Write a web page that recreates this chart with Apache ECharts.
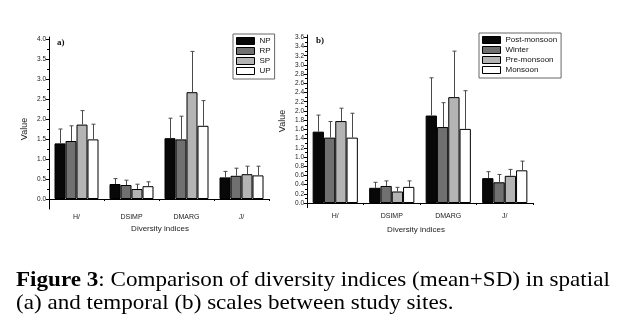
<!DOCTYPE html>
<html>
<head>
<meta charset="utf-8">
<script src="https://cdn.jsdelivr.net/npm/echarts@6/dist/echarts.min.js"></script>
<style>
  html, body { margin: 0; padding: 0; background: #fff; }
  #chart { width: 629px; height: 332px; }
</style>
</head>
<body>
<div id="chart"></div>
<script>
// Diversity indices compared across sites (a) and seasons (b)
const categories = ['H/', 'DSIMP', 'DMARG', 'J/'];

// (a) spatial: sites
const sites = ['NP', 'RP', 'SP', 'UP'];
const npMean = [1.39, 0.375, 1.52, 0.54];
const npSD   = [0.36, 0.135, 0.50, 0.15];
const rpMean = [1.45, 0.35, 1.49, 0.58];
const rpSD   = [0.38, 0.12, 0.58, 0.19];
const spMean = [1.86, 0.25, 2.67, 0.62];
const spSD   = [0.35, 0.12, 1.02, 0.20];
const upMean = [1.49, 0.32, 1.83, 0.59];
const upSD   = [0.38, 0.11, 0.63, 0.23];

// (b) temporal: seasons
const seasons = ['Post-monsoon', 'Winter', 'Pre-monsoon', 'Monsoon'];
const postMean    = [1.55, 0.33, 1.90, 0.54];
const postSD      = [0.36, 0.12, 0.82, 0.14];
const winterMean  = [1.42, 0.37, 1.65, 0.45];
const winterSD    = [0.35, 0.11, 0.53, 0.17];
const preMean     = [1.78, 0.25, 2.30, 0.59];
const preSD       = [0.28, 0.09, 1.00, 0.14];
const monsoonMean = [1.42, 0.35, 1.61, 0.71];
const monsoonSD   = [0.53, 0.13, 0.83, 0.20];

// tick labels
const ticksA = ['0.0', '0.5', '1.0', '1.5', '2.0', '2.5', '3.0', '3.5', '4.0'];
const ticksB = ['0.0', '0.2', '0.4', '0.6', '0.8', '1.0', '1.2', '1.4', '1.6', '1.8',
                '2.0', '2.2', '2.4', '2.6', '2.8', '3.0', '3.2', '3.4', '3.6'];

const fills = ['#080808', '#707070', '#b4b4b4', '#ffffff'];
const GROUP_FRAC = 0.8; // matches barCategoryGap 20%

const majorA = ticksA.map(Number);
const minorA = majorA.slice(0, -1).map(v => +(v + 0.25).toFixed(2));
const majorB = ticksB.map(Number);
const minorB = majorB.slice(0, -1).map(v => +(v + 0.1).toFixed(2));

const sans = 'Liberation Sans, Arial, sans-serif';
const serif = 'Liberation Serif, Times New Roman, serif';

function valueAxis(gridIndex, min, max, labels, ticks) {
  return {
    type: 'value', gridIndex, min, max, position: 'left',
    axisLine: { show: true, lineStyle: { color: '#000', width: 1 } },
    axisTick: { show: true, length: 3, customValues: ticks, lineStyle: { color: '#000' } },
    axisLabel: {
      show: true, customValues: ticks, margin: 3, fontSize: 6.5, color: '#222',
      fontFamily: sans, formatter: v => labels[ticks.indexOf(+v.toFixed(2))] ?? ''
    },
    splitLine: { show: false }
  };
}
function minorAxis(gridIndex, min, max, ticks) {
  return {
    type: 'value', gridIndex, min, max, position: 'left', offset: 0,
    axisLine: { show: false },
    axisTick: { show: true, length: 2, customValues: ticks, lineStyle: { color: '#000' } },
    axisLabel: { show: false },
    splitLine: { show: false }
  };
}
function catAxis(gridIndex) {
  return {
    type: 'category', gridIndex, data: categories,
    axisLine: { show: true, lineStyle: { color: '#000', width: 1 } },
    axisTick: { show: true, length: 2, alignWithLabel: false, lineStyle: { color: '#000' } },
    axisLabel: { fontSize: 7, color: '#222', margin: 5, fontFamily: sans }
  };
}

function barSeries(name, mean, k, g) {
  return {
    name, type: 'bar', xAxisIndex: g, yAxisIndex: g * 2, data: mean,
    barGap: '0%', barCategoryGap: '20%',
    itemStyle: { color: fills[k], borderColor: '#000', borderWidth: 1 },
    z: 2
  };
}
function errSeries(mean, sd, k, g) {
  return {
    type: 'custom', xAxisIndex: g, yAxisIndex: g * 2, z: 3, silent: true,
    data: mean.map((m, i) => [i, m, sd[i]]),
    encode: { x: 0, y: 1 },
    renderItem(params, api) {
      const i = api.value(0), m = api.value(1), s = api.value(2);
      const base = api.coord([i, m]);
      const top = api.coord([i, m + s]);
      const band = api.size([1, 0])[0];
      const group = band * GROUP_FRAC;
      const bw = group / 4;
      const x = Math.round(base[0] - group / 2 + bw * (k + 0.5)) + 0.5;
      const st = { stroke: '#4a4a4a', lineWidth: 1 };
      return {
        type: 'group', children: [
          { type: 'line', shape: { x1: x, y1: base[1], x2: x, y2: top[1] }, style: st },
          { type: 'line', shape: { x1: x - 2, y1: top[1], x2: x + 2, y2: top[1] }, style: st }
        ]
      };
    }
  };
}

function legendBox(data, left, top) {
  return {
    data, orient: 'vertical', left, top,
    itemWidth: 18, itemHeight: 7, itemGap: 0, icon: 'rect',
    padding: [2, 4, 3, 3], borderColor: '#666', borderWidth: 1,
    textStyle: { fontSize: 8, lineHeight: 10, color: '#111', fontFamily: sans },
    itemStyle: { borderColor: '#000', borderWidth: 1 },
    selectedMode: false
  };
}

const chart = echarts.init(document.getElementById('chart'), null, { renderer: 'canvas' });

const option = {
  backgroundColor: '#fff',
  animation: false,
  grid: [
    { left: 49, top: 37, width: 220, height: 172 },
    { left: 307, top: 35, width: 226, height: 172.6 }
  ],
  xAxis: [catAxis(0), catAxis(1)],
  yAxis: [
    valueAxis(0, -0.25, 4.05, ticksA, majorA),
    minorAxis(0, -0.25, 4.05, minorA),
    valueAxis(1, -0.1, 3.65, ticksB, majorB),
    minorAxis(1, -0.1, 3.65, minorB)
  ],
  legend: [legendBox(sites, 233, 34), legendBox(seasons, 479, 33)],
  series: [
    barSeries('NP', npMean, 0, 0), barSeries('RP', rpMean, 1, 0),
    barSeries('SP', spMean, 2, 0), barSeries('UP', upMean, 3, 0),
    errSeries(npMean, npSD, 0, 0), errSeries(rpMean, rpSD, 1, 0),
    errSeries(spMean, spSD, 2, 0), errSeries(upMean, upSD, 3, 0),
    barSeries('Post-monsoon', postMean, 0, 1), barSeries('Winter', winterMean, 1, 1),
    barSeries('Pre-monsoon', preMean, 2, 1), barSeries('Monsoon', monsoonMean, 3, 1),
    errSeries(postMean, postSD, 0, 1), errSeries(winterMean, winterSD, 1, 1),
    errSeries(preMean, preSD, 2, 1), errSeries(monsoonMean, monsoonSD, 3, 1)
  ],
  graphic: [
    { type: 'text', x: 25, y: 129, rotation: Math.PI / 2,
      style: { text: 'Value', fill: '#222', font: '9px ' + sans, align: 'center', verticalAlign: 'middle' } },
    { type: 'text', x: 283, y: 121, rotation: Math.PI / 2,
      style: { text: 'Value', fill: '#222', font: '9px ' + sans, align: 'center', verticalAlign: 'middle' } },
    { type: 'text', x: 160, y: 229,
      style: { text: 'Diversity indices', font: '8px ' + sans, fill: '#222', align: 'center', verticalAlign: 'middle' } },
    { type: 'text', x: 416, y: 230,
      style: { text: 'Diversity indices', font: '8px ' + sans, fill: '#222', align: 'center', verticalAlign: 'middle' } },
    { type: 'text', x: 57, y: 43,
      style: { text: 'a)', font: 'bold 9px ' + serif, fill: '#111', align: 'left', verticalAlign: 'middle' } },
    { type: 'text', x: 316, y: 41,
      style: { text: 'b)', font: 'bold 9px ' + serif, fill: '#111', align: 'left', verticalAlign: 'middle' } },
    { type: 'text', x: 16, y: 291, scaleX: 1.1, originX: 0,
      style: {
        text: '{b|Figure 3}{r|: Comparison of diversity indices (mean+SD) in spatial}',
        verticalAlign: 'bottom',
        rich: {
          b: { fontFamily: serif, fontSize: 21, fontWeight: 'bold', fill: '#000' },
          r: { fontFamily: serif, fontSize: 21, fill: '#000' }
        }
      } },
    { type: 'text', x: 16, y: 314, scaleX: 1.1, originX: 0,
      style: { text: '(a) and temporal (b) scales between study sites.',
        font: '21px ' + serif, fill: '#000', verticalAlign: 'bottom' } }
  ]
};

chart.setOption(option);
</script>
</body>
</html>
